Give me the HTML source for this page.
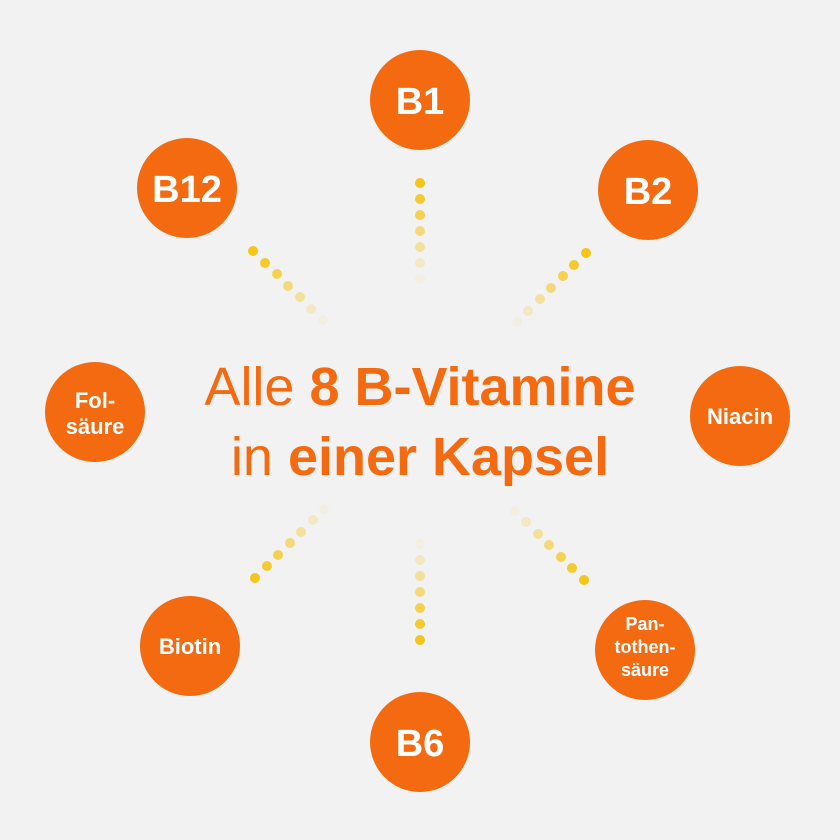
<!DOCTYPE html>
<html><head><meta charset="utf-8"><style>
html,body{margin:0;padding:0;background:#f2f2f2;}
svg{display:block}
.c{fill:#f36a10}
.t{font-family:"Liberation Sans",sans-serif;fill:#fff;font-weight:bold;text-anchor:middle}
.h{font-family:"Liberation Sans",sans-serif;fill:#f36a10;text-anchor:middle}
</style></head><body>
<svg width="840" height="840" viewBox="0 0 840 840">
<rect width="840" height="840" fill="#f2f2f2"/>
<circle class="c" cx="420" cy="100" r="50"/>
<circle class="c" cx="187" cy="188" r="50"/>
<circle class="c" cx="648" cy="190" r="50"/>
<circle class="c" cx="95" cy="412" r="50"/>
<circle class="c" cx="740" cy="416" r="50"/>
<circle class="c" cx="190" cy="646" r="50"/>
<circle class="c" cx="645" cy="650" r="50"/>
<circle class="c" cx="420" cy="742" r="50"/>
<text class="t" x="420" y="114" font-size="38">B1</text>
<text class="t" x="187" y="202" font-size="38">B12</text>
<text class="t" x="648" y="204" font-size="38">B2</text>
<text class="t" x="420" y="756" font-size="38">B6</text>
<text class="t" x="95" y="408" font-size="22">Fol-</text>
<text class="t" x="95" y="434" font-size="22">säure</text>
<text class="t" x="740" y="424" font-size="22">Niacin</text>
<text class="t" x="190" y="654" font-size="22">Biotin</text>
<text class="t" x="645" y="630" font-size="18">Pan-</text>
<text class="t" x="645" y="653" font-size="18">tothen-</text>
<text class="t" x="645" y="676" font-size="18">säure</text>
<text class="h" x="420" y="405" font-size="54"><tspan>Alle </tspan><tspan font-weight="bold">8 B-Vitamine</tspan></text>
<text class="h" x="420" y="475" font-size="54"><tspan>in </tspan><tspan font-weight="bold">einer Kapsel</tspan></text>
<g fill="#f5c518">
<circle cx="420" cy="183" r="5" opacity="1"/><circle cx="420" cy="199" r="5" opacity=".9"/><circle cx="420" cy="215" r="5" opacity=".75"/><circle cx="420" cy="231" r="5" opacity=".55"/><circle cx="420" cy="247" r="5" opacity=".4"/><circle cx="420" cy="263" r="5" opacity=".22"/><circle cx="420" cy="279" r="5" opacity=".08"/>
<circle cx="253" cy="251" r="5" opacity="1"/><circle cx="265" cy="263" r="5" opacity=".9"/><circle cx="277" cy="274" r="5" opacity=".75"/><circle cx="288" cy="286" r="5" opacity=".55"/><circle cx="300" cy="297" r="5" opacity=".4"/><circle cx="311" cy="309" r="5" opacity=".22"/><circle cx="323" cy="320" r="5" opacity=".08"/>
<circle cx="586" cy="253" r="5" opacity="1"/><circle cx="574" cy="265" r="5" opacity=".9"/><circle cx="563" cy="276" r="5" opacity=".75"/><circle cx="551" cy="288" r="5" opacity=".55"/><circle cx="540" cy="299" r="5" opacity=".4"/><circle cx="528" cy="311" r="5" opacity=".22"/><circle cx="517" cy="322" r="5" opacity=".08"/>
<circle cx="420" cy="640" r="5" opacity="1"/><circle cx="420" cy="624" r="5" opacity=".9"/><circle cx="420" cy="608" r="5" opacity=".75"/><circle cx="420" cy="592" r="5" opacity=".55"/><circle cx="420" cy="576" r="5" opacity=".4"/><circle cx="420" cy="560" r="5" opacity=".22"/><circle cx="420" cy="544" r="5" opacity=".08"/>
<circle cx="255" cy="578" r="5" opacity="1"/><circle cx="267" cy="566" r="5" opacity=".9"/><circle cx="278" cy="555" r="5" opacity=".75"/><circle cx="290" cy="543" r="5" opacity=".55"/><circle cx="301" cy="532" r="5" opacity=".4"/><circle cx="313" cy="520" r="5" opacity=".22"/><circle cx="324" cy="509" r="5" opacity=".08"/>
<circle cx="584" cy="580" r="5" opacity="1"/><circle cx="572" cy="568" r="5" opacity=".9"/><circle cx="561" cy="557" r="5" opacity=".75"/><circle cx="549" cy="545" r="5" opacity=".55"/><circle cx="538" cy="534" r="5" opacity=".4"/><circle cx="526" cy="522" r="5" opacity=".22"/><circle cx="515" cy="511" r="5" opacity=".08"/>
</g>
</svg>
</body></html>
